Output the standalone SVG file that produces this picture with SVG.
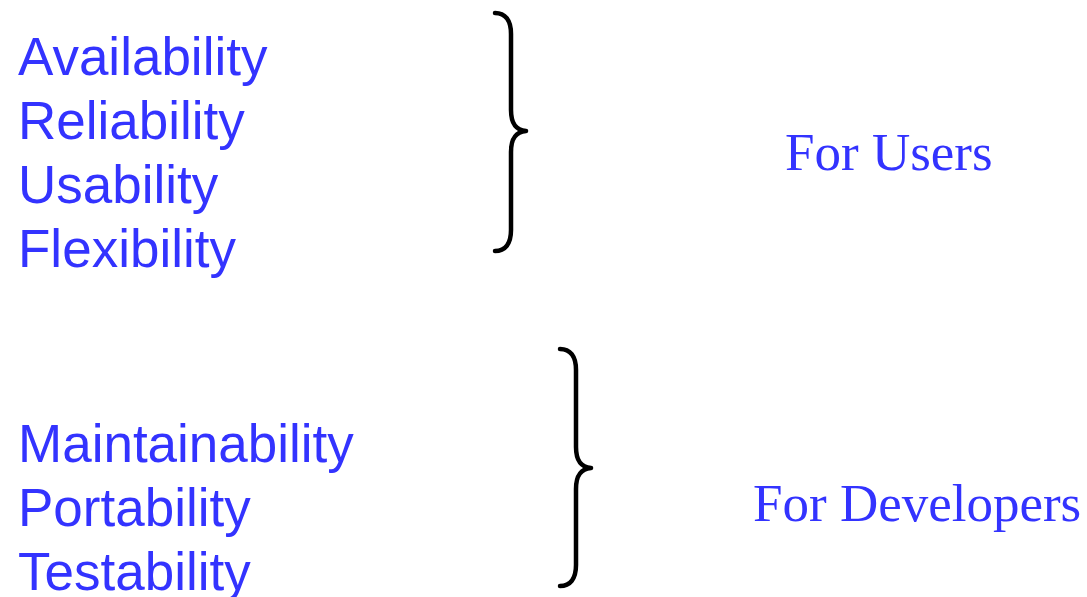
<svg xmlns="http://www.w3.org/2000/svg" width="1087" height="597" viewBox="0 0 1087 597">
<style>
.q{font-family:"Liberation Sans",Arial,sans-serif;font-size:53px;fill:#3333FF}
.g{font-family:"Liberation Serif","Times New Roman",serif;font-size:53px;fill:#3333FF}
.b{fill:none;stroke:#000;stroke-width:4.5;stroke-linecap:round;stroke-linejoin:round}
</style>
<rect width="1087" height="597" fill="#fff"/>
<g id="users-list">
<text class="q" x="18" y="75">Availability</text>
<text class="q" x="18" y="139">Reliability</text>
<text class="q" x="18" y="203">Usability</text>
<text class="q" x="18" y="267">Flexibility</text>
</g>
<g id="dev-list">
<text class="q" x="18" y="462">Maintainability</text>
<text class="q" x="18" y="526">Portability</text>
<text class="q" x="18" y="590">Testability</text>
</g>
<g id="braces">
<path class="b" d="M495,13 C505,13 511,20 511,34 L511,110 C511,124 516,130 526,131 C516,132 511,138 511,152 L511,230 C511,244 505,251 495,251"/>
<path class="b" d="M560,349 C570,349 576,356 576,370 L576,447 C576,461 581,467 591,468 C581,469 576,475 576,489 L576,565 C576,579 570,586 560,586"/>
</g>
<g id="for-users"><text class="g" x="785" y="170">For Users</text></g>
<g id="for-developers"><text class="g" x="753" y="521">For Developers</text></g>
</svg>
